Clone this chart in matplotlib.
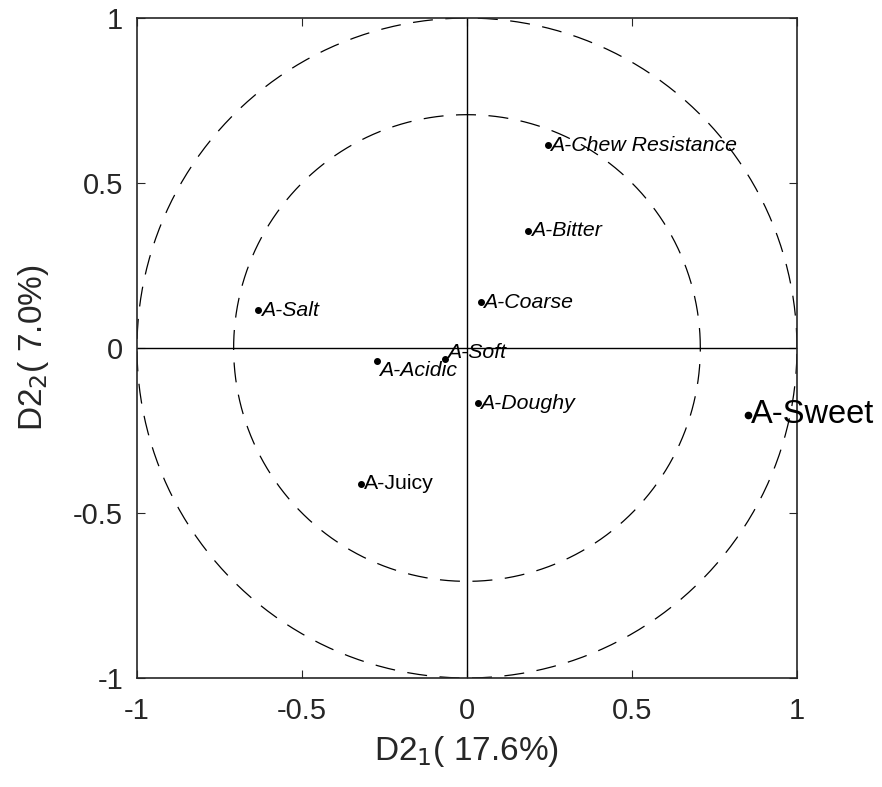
import numpy as np
from matplotlib import pyplot as plt

plt.rcParams['font.family'] = ['Liberation Sans', 'DejaVu Sans']

# attribute loadings on the first two dimensions
names = ['A-Chew Resistance', 'A-Bitter', 'A-Coarse', 'A-Salt', 'A-Soft',
         'A-Acidic', 'A-Doughy', 'A-Juicy', 'A-Sweet']
d1 = [0.245, 0.185, 0.042, -0.633, -0.067, -0.273, 0.033, -0.321, 0.852]
d2 = [0.615, 0.355, 0.139, 0.115, -0.033, -0.039, -0.167, -0.412, -0.203]
italic = [True, True, True, True, True, True, True, False, False]
big = [False, False, False, False, False, False, False, False, True]
# small vertical nudges so overlapping labels stay readable
nudge = [0, 0, 0, 0, 0.02, -0.03, 0, 0, 0]

ticks = [-1, -0.5, 0, 0.5, 1]
tick_labels = ['-1', '-0.5', '0', '0.5', '1']

ink = '#262626'
fig = plt.figure(figsize=(8.82, 7.87), dpi=100)
ax = fig.add_axes([0.1553, 0.1385, 0.7483, 0.8386])

# correlation circles (r = 1 and r = sqrt(0.5))
t = np.linspace(0, 2 * np.pi, 400)
for r in [1.0, np.sqrt(0.5)]:
    ax.plot(r * np.cos(t), r * np.sin(t), color='k', lw=0.9,
            dashes=(16, 10))
ax.plot([-1, 1], [0, 0], color='k', lw=1.0)
ax.plot([0, 0], [-1, 1], color='k', lw=1.0)

for i in range(len(names)):
    ax.plot(d1[i], d2[i], 'o', color='k', ms=4 if not big[i] else 4.5)
    ax.text(d1[i] + 0.008, d2[i] + nudge[i], names[i],
            fontsize=23.5 if big[i] else 15.3,
            style='italic' if italic[i] else 'normal',
            ha='left', va='center', color='k')

ax.set_xlim(-1, 1)
ax.set_ylim(-1, 1)
ax.set_xticks(ticks)
ax.set_xticklabels(tick_labels)
ax.set_yticks(ticks)
ax.set_yticklabels(tick_labels)
ax.tick_params(direction='in', length=6, width=0.8, top=True, right=True,
               labelsize=21, colors=ink)
ax.tick_params(axis='x', pad=14)
ax.tick_params(axis='y', pad=10)
for s in ax.spines.values():
    s.set_color(ink)
    s.set_linewidth(1.2)

ax.set_xlabel('D2$_{1}$( 17.6%)', fontsize=24, color=ink, labelpad=6)
ax.set_ylabel('D2$_{2}$( 7.0%)', fontsize=24, color=ink, labelpad=16)

fig.savefig('out.png', dpi=100, facecolor='white')
